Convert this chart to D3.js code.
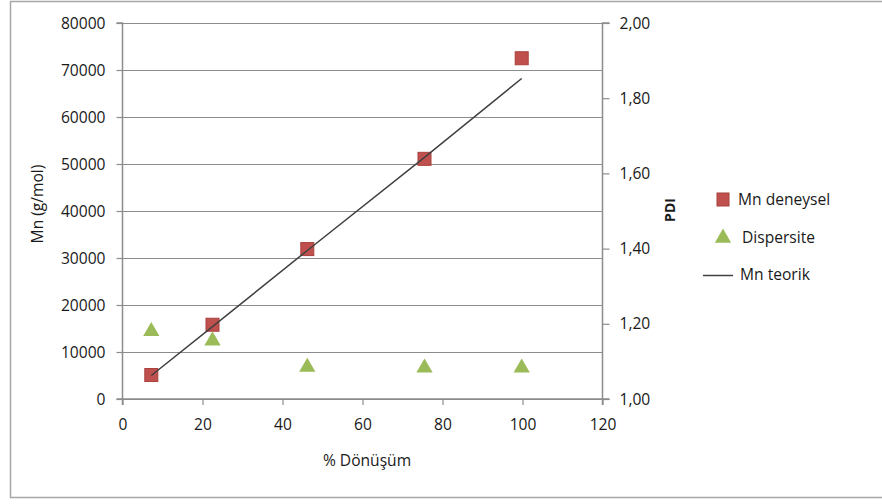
<!DOCTYPE html>
<html>
<head>
<meta charset="utf-8">
<script src="https://cdn.jsdelivr.net/npm/d3@7"></script>
<style>
  html, body { margin: 0; padding: 0; background: #fff; }
  svg text { font-family: "Open Sans", "Noto Sans", sans-serif; fill: #1a1a1a; }
</style>
</head>
<body>
<svg id="chart" width="882" height="504"></svg>
<script>
// Conversion (%) for each sample
const conversion = [7.2, 22.5, 46.2, 75.5, 99.8];
// Experimental number-average molar mass (g/mol)
const mnExperimental = [5100, 15800, 31900, 51100, 72500];
// Theoretical Mn at the same conversions
const mnTheoretical = [5000, 15400, 31600, 51400, 68200];
// Dispersity (PDI)
const dispersity = [1.18, 1.155, 1.085, 1.083, 1.083];

const xTicks = [0, 20, 40, 60, 80, 100, 120];
const yLeftTicks = [0, 10000, 20000, 30000, 40000, 50000, 60000, 70000, 80000];
const yRightTicks = [1.0, 1.2, 1.4, 1.6, 1.8, 2.0];

const legendItems = ["Mn deneysel", "Dispersite", "Mn teorik"];

const svg = d3.select("#chart");
const plot = { left: 122.5, right: 602.5, top: 23, bottom: 399 };

// Outer chart frame
svg.append("rect")
  .attr("x", 10.5).attr("y", 1.5)
  .attr("width", 885).attr("height", 496)
  .attr("fill", "none").attr("stroke", "#a6a6a6").attr("stroke-width", 1.5);

const x = d3.scaleLinear().domain([0, 120]).range([plot.left, plot.right]);
const yL = d3.scaleLinear().domain([0, 80000]).range([plot.bottom, plot.top]);
const yR = d3.scaleLinear().domain([1.0, 2.0]).range([plot.bottom, plot.top]);

const gridColor = "#8c8c8c";
const fontSize = "15.6px";

// Horizontal gridlines
svg.append("g")
  .selectAll("line")
  .data(yLeftTicks)
  .join("line")
  .attr("x1", plot.left).attr("x2", plot.right)
  .attr("y1", d => Math.round(yL(d)) + 0.5).attr("y2", d => Math.round(yL(d)) + 0.5)
  .attr("stroke", gridColor).attr("stroke-width", 1);

// Left axis
const axL = svg.append("g")
  .attr("transform", `translate(${plot.left},0)`)
  .call(d3.axisLeft(yL).tickValues(yLeftTicks).tickFormat(d3.format("d")).tickSize(6).tickPadding(11));

// Right axis
const comma2 = d => d.toFixed(2).replace(".", ",");
const axR = svg.append("g")
  .attr("transform", `translate(${plot.right},0)`)
  .call(d3.axisRight(yR).tickValues(yRightTicks).tickFormat(comma2).tickSize(7).tickPadding(10));

// Bottom axis
const axB = svg.append("g")
  .attr("transform", `translate(0,${plot.bottom})`)
  .call(d3.axisBottom(x).tickValues(xTicks).tickFormat(d3.format("d")).tickSize(6).tickPadding(14));

[axL, axR, axB].forEach(g => {
  g.select(".domain").attr("stroke", gridColor).attr("stroke-width", 1.5);
  g.selectAll(".tick line").attr("stroke", gridColor).attr("stroke-width", 1.2);
  g.selectAll(".tick text").style("font-size", fontSize).attr("fill", "#1a1a1a")
    .style("font-family", "'Open Sans', sans-serif");
});
axL.select(".domain").attr("d", `M-6,${plot.bottom}H0V${plot.top}H-6`);
axR.select(".domain").attr("d", `M7,${plot.bottom}H0V${plot.top}H7`);
axB.select(".domain").attr("d", `M${plot.left},6V0H${plot.right}V6`);

// Axis titles
svg.append("text")
  .attr("transform", `translate(43,204) rotate(-90)`)
  .attr("text-anchor", "middle")
  .style("font-size", fontSize)
  .text("Mn (g/mol)");

svg.append("text")
  .attr("transform", `translate(675,210) rotate(-90)`)
  .attr("text-anchor", "middle")
  .style("font-size", "14px").style("font-weight", "bold")
  .text("PDI");

svg.append("text")
  .attr("x", 367).attr("y", 466)
  .attr("text-anchor", "middle")
  .style("font-size", fontSize)
  .text("% Dönüşüm");

const red = "#c0504d", redStroke = "#a8403d";
const green = "#9bbb59";
const lineColor = "#404040";

const lineData = conversion.map((c, i) => [c, mnTheoretical[i]]);
const lineGen = d3.line().x(d => x(d[0])).y(d => yL(d[1]));

// Experimental Mn markers
const sq = 13;
svg.append("g")
  .selectAll("rect")
  .data(conversion.map((c, i) => [c, mnExperimental[i]]))
  .join("rect")
  .attr("x", d => x(d[0]) - sq / 2).attr("y", d => yL(d[1]) - sq / 2)
  .attr("width", sq).attr("height", sq)
  .attr("fill", red).attr("stroke", redStroke).attr("stroke-width", 1);

// Theoretical Mn line, drawn above the squares
svg.append("path")
  .datum(lineData)
  .attr("d", lineGen)
  .attr("fill", "none").attr("stroke", lineColor).attr("stroke-width", 1.5);

// Dispersity markers
const tri = d3.symbol().type(d3.symbolTriangle).size(115);
svg.append("g")
  .selectAll("path")
  .data(conversion.map((c, i) => [c, dispersity[i]]))
  .join("path")
  .attr("transform", d => `translate(${x(d[0])},${yR(d[1])})`)
  .attr("d", tri)
  .attr("fill", green);

// Legend
const lg = svg.append("g");
lg.append("rect").attr("x", 717).attr("y", 193).attr("width", 12).attr("height", 13)
  .attr("fill", red).attr("stroke", redStroke);
lg.append("text").attr("x", 738).attr("y", 204.5).style("font-size", fontSize).text(legendItems[0]);
lg.append("path").attr("transform", "translate(723,238)").attr("d", tri).attr("fill", green);
lg.append("text").attr("x", 742).attr("y", 242.5).style("font-size", fontSize).text(legendItems[1]);
lg.append("line").attr("x1", 703).attr("x2", 733).attr("y1", 275.5).attr("y2", 275.5)
  .attr("stroke", lineColor).attr("stroke-width", 1.5);
lg.append("text").attr("x", 740).attr("y", 280).style("font-size", fontSize).text(legendItems[2]);
</script>
</body>
</html>
